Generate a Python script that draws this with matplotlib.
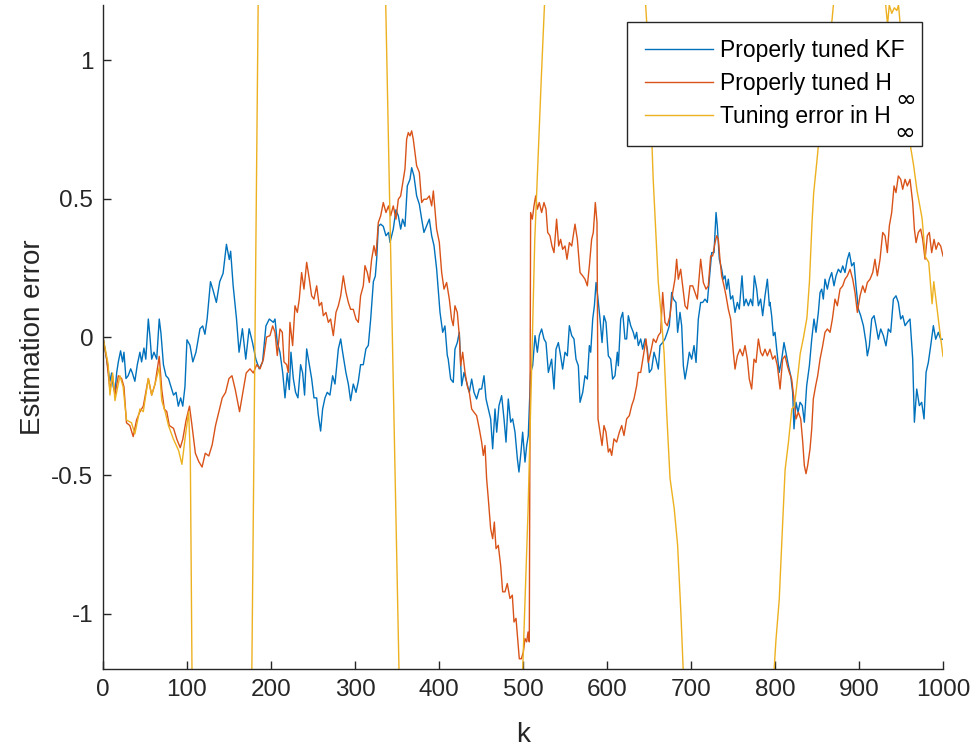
import numpy as np
import matplotlib.pyplot as plt

plt.rcParams['font.family'] = ['Liberation Sans', 'DejaVu Sans']
plt.rcParams['axes.unicode_minus'] = False

# estimation error of the properly tuned Kalman filter
kf_k = [0, 4.4, 8.3, 10.3, 12.3, 14.3, 16.3, 18.3, 21, 23.4, 25, 27.4, 30, 33, 35, 38, 40.9, 44, 46, 48.8,
        51, 54, 56, 58, 60.7, 64, 67, 69, 72, 75, 78, 81, 84, 87, 89.7, 92.5, 95, 97.6, 100, 103.6,
        107, 110.7, 115.5, 118.7, 121.4, 124, 128, 131, 135, 139, 143, 147, 150.4, 152, 155, 159, 162, 166, 170, 174,
        178, 182, 186, 190, 194, 198,
        202.8, 204.8, 207.5, 210.7, 214, 216.7, 219.4, 221.8, 223.8, 226.6, 229.3, 232.1, 235.3, 237.7, 240, 242.5, 245.6, 248.4, 251.2, 254.4,
        256.3, 259.1, 261.5, 264.3, 267, 270.2, 273.4, 276.2, 280.2, 283, 285.3, 289.3, 292.1, 294.8, 298, 301.2, 304, 306.7, 309.9, 313,
        315.9, 318.7, 321.9, 324.2, 325.8, 327.8, 330.6, 333.7, 336.9, 340, 341.7, 345.6, 348.8, 351.6, 354.4, 356.7, 359.5, 362.3, 365.5, 367.5,
        370.2, 373.4, 376.6, 379.4, 382.1, 385.3, 388.5, 391.3, 394.1, 397.2, 401.2, 404.4, 407.1, 409.9,
        411, 413.9, 417, 419, 421.8, 424.2, 427, 429.8, 433, 436.1, 438.9, 441.7, 444.8, 448, 450.8, 453.6, 456, 458.7, 461.5, 463.9,
        466.7, 468.7, 471.4, 474.6, 477.4, 479.8, 482.5, 485.3, 487.7, 490.5, 493.3, 495.2, 497.6, 499.6, 502.4, 504.4, 506.3, 509.1, 511.5, 514.3,
        517.1, 519.4, 522.2, 525, 527.4, 530.2, 532.1, 534.1, 536.9, 539.3, 542.1, 544.8, 547.2, 550, 552.8, 555.2, 558, 560.7, 563.1, 565.9,
        567.9, 571.1, 573.8, 576.6, 579, 580.6, 583, 585, 587, 588.9, 591.7, 594.1, 596.4, 598.8, 601.6, 604.4, 606.7, 609.5, 612.3,
        613.5, 616.3, 618.7, 621.4, 623.4, 625.4, 628.2, 631.3, 633.3, 635.3, 637.3, 640.1, 642.5, 645.2, 648, 650.4, 653.2, 656, 658.3, 661.1,
        663.1, 666.3, 669, 671.8, 674.2, 677, 679, 682.1, 684.1, 686.9, 688.9, 690.9, 692.9, 695.6, 698, 700.8, 703.6, 706, 708.7, 711.5,
        713.9, 716.7, 719.4, 721.8, 724.6, 727.4, 729.8, 731.3, 733.7, 736.5, 738.5, 740.5, 742.5, 744.4, 747.2, 749.6, 752.4, 755.2, 757.5, 760.7,
        763.1, 765.5, 768.3, 771, 773.4, 775.4, 778.2, 780.2, 782.9, 785.3, 788.1, 790.9, 793.3,
        794, 796, 798, 800, 802, 805, 808, 810.7, 813, 816, 818.7, 821, 822.6, 825, 827.4, 829.8, 832.5, 834.9, 837.7, 840.9,
        843.7, 846.4, 848.8, 851.6, 853.6, 855.6, 857.5, 859.5, 862.3, 864.7, 867.5, 870.2, 872.6, 875.4, 878.2, 880.6, 883.3, 886.1, 888.5, 891.3,
        894, 896.4, 899.2, 902, 905.2, 908.3, 909.9, 912.3, 915.1, 917.9, 920.2, 923, 925.8, 929, 932.1, 934.9, 937.7, 940.9, 944, 946.8,
        949.6, 952, 954.8, 957.5, 960.7, 963.9, 965.9, 968.7, 971.8, 974.6, 977.4, 979.8, 982.5, 985.3, 988.5, 991.3, 994.4, 997.2, 1000]
kf_err = [0, -0.08, -0.16, -0.13, -0.18, -0.2, -0.13, -0.09, -0.05, -0.09, -0.055, -0.15, -0.14, -0.115, -0.13, -0.16, -0.1, -0.055, -0.09, -0.04,
          -0.08, 0.065, 0.0, -0.08, -0.055, -0.08, 0.065, 0.015, -0.1, -0.14, -0.15, -0.18, -0.21, -0.2, -0.25, -0.22, -0.25, -0.18, -0.01, -0.03,
          -0.09, -0.055, 0.03, 0.04, 0.01, 0.065, 0.2, 0.17, 0.125, 0.2, 0.23, 0.335, 0.28, 0.31, 0.185, 0.065, -0.055, 0.03, -0.08, 0.03,
          -0.02, -0.08, -0.115, -0.09, 0.04, 0.065,
          0.053, 0.065, -0.02, -0.055, -0.13, -0.22, -0.13, -0.19, -0.055, -0.15, -0.2, -0.22, -0.1, -0.13, -0.21, -0.043, -0.1, -0.15, -0.22, -0.22,
          -0.28, -0.34, -0.26, -0.22, -0.2, -0.21, -0.14, -0.17, -0.043, -0.007, -0.055, -0.13, -0.17, -0.23, -0.17, -0.2, -0.16, -0.1, -0.1, -0.043,
          -0.03, 0.065, 0.2, 0.22, 0.28, 0.4, 0.408, 0.4, 0.366, 0.378, 0.342, 0.39, 0.46, 0.438, 0.39, 0.426, 0.4, 0.546, 0.57, 0.612,
          0.582, 0.51, 0.48, 0.426, 0.378, 0.402, 0.426, 0.366, 0.33, 0.246, 0.09, 0.017, 0.04, -0.067,
          -0.08, -0.152, -0.164, -0.044, -0.02, 0.017, -0.176, -0.128, -0.164, -0.2, -0.152, -0.2, -0.224, -0.188, -0.188, -0.14, -0.224, -0.26, -0.296, -0.404,
          -0.26, -0.344, -0.248, -0.212, -0.296, -0.38, -0.224, -0.308, -0.296, -0.344, -0.44, -0.488, -0.416, -0.344, -0.452, -0.392, -0.356, -0.128, -0.104, 0.005,
          -0.055, 0.005, 0.029, -0.007, -0.02, -0.128, -0.104, -0.08, -0.188, -0.044, -0.02, -0.068, -0.116, -0.055, -0.068, 0.041, 0.005, -0.007, -0.08, -0.104,
          -0.236, -0.2, -0.14, -0.152, -0.031, -0.055, 0.065, 0.113, 0.197, 0.149, 0.065, -0.02, 0.077, 0.053, -0.068, -0.08, -0.152, -0.14, -0.055,
          -0.104, 0.065, 0.089, -0.007, -0.007, 0.077, 0.041, 0.017, -0.007, 0.017, -0.031, -0.007, -0.044, -0.007, -0.044, -0.128, -0.116, -0.055, -0.08, -0.116,
          -0.031, -0.02, -0.007, 0.017, 0.041, 0.161, 0.137, 0.125, 0.017, 0.089, 0.041, -0.104, -0.152, -0.104, -0.055, -0.08, -0.031, -0.092, 0.065, 0.125,
          0.125, 0.137, 0.125, 0.209, 0.305, 0.305, 0.45, 0.402, 0.281, 0.245, 0.209, 0.221, 0.173, 0.209, 0.137, 0.149, 0.089, 0.125, 0.101, 0.221,
          0.113, 0.137, 0.113, 0.137, 0.113, 0.221, 0.173, 0.113, 0.137, 0.077, 0.149, 0.209, 0.113,
          0.125, 0.077, 0.005, 0.017, -0.044, -0.128, -0.08, -0.02, -0.056, -0.104, -0.14, -0.2, -0.332, -0.236, -0.272, -0.236, -0.248, -0.308, -0.176, -0.104,
          -0.008, 0.065, 0.017, 0.089, 0.161, 0.173, 0.137, 0.209, 0.173, 0.209, 0.233, 0.185, 0.221, 0.245, 0.233, 0.257, 0.233, 0.281, 0.305, 0.257,
          0.269, 0.185, 0.101, 0.077, 0.041, -0.02, -0.068, -0.032, 0.065, 0.077, 0.041, -0.008, 0.029, 0.005, -0.032, 0.029, 0.017, 0.137, 0.149, 0.125,
          0.065, 0.077, 0.041, 0.053, 0.065, -0.08, -0.308, -0.188, -0.248, -0.236, -0.296, -0.128, -0.092, -0.032, 0.041, -0.008, 0.017, -0.008, -0.008]

# properly tuned H-infinity filter
hinf_k = [0, 4.4, 8.3, 11.5, 14.3, 18.3, 22.2, 25, 28, 32, 36, 40, 44, 48, 54, 58, 62, 67, 70, 73,
          76, 79, 84, 88, 92, 95, 99, 103, 106, 110, 114, 118, 121.8, 126, 130, 134, 138, 142, 146, 150,
          153.6, 157.5, 162.6, 166.5, 170.5, 175, 179, 183, 187, 191, 194.8,
          198.8, 202, 204.8, 207.5, 210.7, 213.5, 215.5, 218.7, 220.6, 222.6, 225.8, 228.6, 231.4, 233.7, 236.5, 239.3, 242.5, 245.6, 248.4, 251.2,
          254.4, 257.5, 260.3, 262.3, 265.5, 268.3, 271, 274.2, 277.4, 280.2, 283, 286.1, 289.3, 292.1, 294.8, 298, 301.2, 304, 306.7, 309.9,
          311.9, 314.7, 317.1, 319.8, 322.6, 325, 327.8, 330.6, 333.7, 336.9, 340, 342.5, 345.6, 348.8, 351.6, 354.4, 357.5, 359.5, 361.5, 363.5,
          365.5, 367.5, 369.4, 371.4, 373.4, 376.6, 379.4, 382.1, 385.3, 388.5, 391.3, 393.3, 395.2, 397.2, 400.4, 403.2, 406, 409.1,
          412.3, 415, 417, 419, 421.8, 424.2, 425.8, 428.2, 431, 433.7, 436.1, 438.9, 441.7, 444.8, 448, 450.8, 452.8, 454.8, 456.7, 458.7,
          461.5, 463.9, 465.9, 467.9, 470.6, 473.4, 475.8, 478.6, 481.3, 484.5, 487.3, 489.3, 491.7, 493.7, 495.6, 498, 500.4, 502.4, 504.4, 506,
          507.5, 509.1, 511.1, 513.1, 515.1, 517.1, 519.4, 522.2, 525, 527.4, 529.4, 532.1, 534.5, 536.9, 540, 542.5, 544.8, 547.2, 550, 552.4,
          555.2, 558, 561.9, 564.7, 567.9, 571.1, 573.8, 576.6, 579, 581.7, 583.7, 586.1, 588.1, 589.3, 591.7, 594.1, 596.4, 598.8, 601.6,
          603.6, 605.6, 608.3, 611.5, 614.7, 617.5, 620.2, 623.4, 626.6, 629.4, 632.1, 635.3, 637.3, 640.1, 643.3, 646.4, 649.2, 652, 655.2, 658.3,
          661.1, 663.9, 666.3, 669, 671.8, 675, 678.2, 680.9, 682.9, 684.9, 687.7, 690.1, 692.9, 695.6, 698.8, 702, 704.8, 707.5, 709.9, 711.5,
          714.7, 717.9, 720.6, 723.4, 725.8, 728.6, 730.6, 732.5, 734.5, 736.5, 739.3, 741.7, 744.4, 747.2, 750.4, 752.4, 755.2, 758.3, 761.5, 764.3,
          767.1, 769.4, 772.2, 775, 777.4, 780.2, 782.9, 785.3, 788.1, 790.9,
          794, 797.2, 800, 802.8, 806, 809.1, 811.9, 814.7, 817, 819.8, 822.6, 825, 827.8, 830.6, 833, 834.9, 836.9, 838.9, 841.7, 843.7,
          845.6, 848.4, 850.8, 853.6, 856.7, 859.5, 862.3, 865.5, 868.3, 871.4, 874.2, 877.4, 880.6, 883.3, 886.1, 889.3, 892.5, 895.2, 898, 901.2,
          904.4, 907.1, 909.9, 913.1, 916.3, 919, 921.8, 925, 928.2, 931, 933.7, 936.1, 938.9, 941.7, 944, 946.8, 949.6, 952, 954.8, 957.5,
          960.7, 963.9, 965.9, 967.9, 970.6, 973.4, 975.8, 978.6, 981.3, 983.7, 986.5, 989.3, 991.7, 994.4, 997.2, 1000]
hinf_err = [0, -0.08, -0.19, -0.14, -0.21, -0.14, -0.15, -0.18, -0.31, -0.32, -0.36, -0.3, -0.27, -0.25, -0.15, -0.21, -0.17, -0.07, -0.19, -0.26,
            -0.27, -0.32, -0.33, -0.37, -0.4, -0.37, -0.3, -0.25, -0.32, -0.42, -0.45, -0.47, -0.42, -0.43, -0.39, -0.32, -0.27, -0.22, -0.2, -0.15,
            -0.14, -0.19, -0.27, -0.2, -0.13, -0.115, -0.13, -0.1, -0.115, -0.08, 0.0,
            0.005, 0.04, 0.017, -0.067, 0.029, 0.017, -0.09, -0.1, -0.128, 0.053, -0.031, 0.113, 0.089, 0.137, 0.233, 0.173, 0.27, 0.21, 0.149, 0.137,
            0.185, 0.113, 0.125, 0.077, 0.089, 0.053, 0.065, 0.005, 0.089, 0.113, 0.149, 0.221, 0.161, 0.125, 0.1, 0.1, 0.065, 0.053, 0.149, 0.185,
            0.258, 0.233, 0.197, 0.28, 0.33, 0.294, 0.414, 0.438, 0.486, 0.45, 0.474, 0.438, 0.474, 0.426, 0.498, 0.51, 0.57, 0.607, 0.715, 0.739,
            0.727, 0.745, 0.715, 0.667, 0.619, 0.595, 0.486, 0.498, 0.498, 0.51, 0.474, 0.528, 0.462, 0.39, 0.342, 0.233, 0.173, 0.197,
            0.137, 0.065, 0.041, 0.113, 0.089, 0.005, -0.104, -0.055, -0.128, -0.176, -0.2, -0.26, -0.272, -0.284, -0.332, -0.38, -0.428, -0.392, -0.512, -0.584,
            -0.693, -0.729, -0.669, -0.765, -0.753, -0.825, -0.921, -0.921, -0.891, -0.945, -0.933, -1.03, -1.017, -1.09, -1.163, -1.163, -1.139, -1.09, -1.102, -1.066,
            -1.102, 0.45, 0.426, 0.474, 0.51, 0.462, 0.486, 0.45, 0.486, 0.462, 0.378, 0.366, 0.329, 0.305, 0.426, 0.329, 0.353, 0.317, 0.329, 0.281,
            0.341, 0.329, 0.408, 0.353, 0.233, 0.221, 0.209, 0.185, 0.257, 0.353, 0.378, 0.486, 0.414, -0.296, -0.344, -0.392, -0.32, -0.344, -0.416,
            -0.404, -0.428, -0.368, -0.38, -0.344, -0.32, -0.356, -0.296, -0.284, -0.248, -0.224, -0.176, -0.128, -0.128, -0.068, -0.007, -0.092, -0.055, -0.007, -0.02,
            0.005, 0.017, 0.161, 0.053, 0.041, 0.077, 0.161, 0.209, 0.281, 0.209, 0.245, 0.185, 0.113, 0.101, 0.185, 0.185, 0.161, 0.137, 0.221, 0.281,
            0.197, 0.173, 0.185, 0.293, 0.293, 0.341, 0.366, 0.353, 0.281, 0.221, 0.185, 0.149, 0.101, 0.065, -0.055, -0.116, -0.068, -0.044, -0.068, -0.031,
            -0.08, -0.152, -0.188, -0.08, -0.092, -0.007, -0.055, -0.068, -0.044, -0.068,
            -0.044, -0.08, -0.068, -0.104, -0.188, -0.08, -0.068, -0.104, -0.128, -0.152, -0.224, -0.296, -0.272, -0.296, -0.38, -0.464, -0.494, -0.464, -0.404, -0.332,
            -0.224, -0.176, -0.14, -0.08, -0.032, 0.017, 0.029, 0.017, 0.065, 0.137, 0.113, 0.173, 0.185, 0.209, 0.221, 0.245, 0.209, 0.161, 0.089, 0.149,
            0.185, 0.161, 0.197, 0.209, 0.233, 0.281, 0.221, 0.281, 0.378, 0.366, 0.305, 0.402, 0.45, 0.546, 0.522, 0.582, 0.57, 0.534, 0.57, 0.546,
            0.57, 0.486, 0.39, 0.341, 0.378, 0.39, 0.353, 0.281, 0.366, 0.378, 0.305, 0.353, 0.317, 0.341, 0.329, 0.293]

# H-infinity filter with a tuning error (swings far outside the plotted range)
bad_k = [0, 6.3, 8.3, 11.5, 14.3, 20.2, 24, 28, 34, 38, 44, 48, 54, 58, 62, 67, 70, 74, 78, 84,
         90, 94, 98, 102, 104, 107, 140, 176, 186, 260, 334, 355, 425, 498, 506, 510, 514, 518, 522, 527,
         585, 643, 650, 655, 661, 665, 668, 671, 675, 680, 684, 688, 692, 745, 797, 801, 805, 809, 812, 816,
         820, 823, 825, 830, 834, 838, 841, 844, 846, 850, 855, 860, 864, 868, 871, 900, 931, 932, 934, 936,
         939, 942, 945, 947, 949, 953, 958, 965, 969, 975, 979, 983, 987, 989, 993, 996, 1000]
bad_err = [0, -0.1, -0.21, -0.13, -0.23, -0.14, -0.18, -0.3, -0.31, -0.35, -0.26, -0.27, -0.15, -0.21, -0.17, -0.11, -0.23, -0.27, -0.32, -0.37,
           -0.41, -0.46, -0.36, -0.27, -0.43, -1.6, -3.0, -1.6, 1.6, 3.0, 1.6, -1.6, -3.0, -1.35, -0.63, -0.15, 0.35, 0.65, 0.95, 1.3,
           3.0, 1.35, 1.0, 0.57, 0.2, 0.06, -0.06, -0.27, -0.51, -0.62, -0.75, -1.0, -1.3, -3.0, -1.3, -1.1, -0.95, -0.68, -0.48, -0.38,
           -0.26, -0.25, -0.2, -0.06, 0.0, 0.07, 0.2, 0.41, 0.52, 0.64, 0.8, 0.95, 1.04, 1.15, 1.25, 1.6, 1.25, 1.19, 1.13, 1.2,
           1.17, 1.19, 1.18, 1.2, 1.13, 0.95, 0.75, 0.62, 0.53, 0.43, 0.29, 0.27, 0.12, 0.2, 0.1, 0.025, -0.07]

legend_labels = ['Properly tuned KF', 'Properly tuned H', 'Tuning error in H']

fig = plt.figure(figsize=(9.74, 7.48), dpi=100)
ax = fig.add_axes([0.1057, 0.1056, 0.8625, 0.8877])

ax.plot(kf_k, kf_err, color='#0072BD', lw=1.0, label=legend_labels[0])
ax.plot(hinf_k, hinf_err, color='#D95319', lw=1.0, label=legend_labels[1])
ax.plot(bad_k, bad_err, color='#EDB120', lw=1.0, label=legend_labels[2])

ax.set_xlim(0, 1000)
ax.set_ylim(-1.2, 1.2)
ax.set_xticks(np.arange(0, 1001, 100))
ax.set_yticks([-1, -0.5, 0, 0.5, 1])
ax.set_yticklabels(['-1', '-0.5', '0', '0.5', '1'])

grey = '#262626'
for side in ['top', 'right']:
    ax.spines[side].set_visible(False)
for side in ['left', 'bottom']:
    ax.spines[side].set_color(grey)
    ax.spines[side].set_linewidth(1.0)
ax.tick_params(direction='in', length=6, width=1.0, colors=grey, labelsize=17.5, pad=7)

ax.set_xlabel('k', fontsize=20, color=grey, labelpad=15)
ax.set_ylabel('Estimation error', fontsize=20, color=grey, labelpad=4)

leg = ax.legend(loc='upper right', bbox_to_anchor=(0.975, 0.975), borderaxespad=0, fontsize=16.5,
                frameon=True, fancybox=False, edgecolor=grey, framealpha=1.0, handlelength=3.0,
                borderpad=0.75, labelspacing=0.45, handletextpad=0.3)
leg.get_frame().set_linewidth(1.0)

# H-infinity subscripts, drawn under the end of the two H labels
fig.canvas.draw()
renderer = fig.canvas.get_renderer()
W, H = fig.bbox.width, fig.bbox.height
for t in leg.get_texts()[1:]:
    bb = t.get_window_extent(renderer)
    fig.text((bb.x1 + 3) / W, ((bb.y0 + bb.y1) / 2 - 16) / H, '\u221e', fontsize=18,
             family='DejaVu Sans', ha='left', va='center', color='black', zorder=10)

plt.savefig('out.png', dpi=100)
plt.close()
